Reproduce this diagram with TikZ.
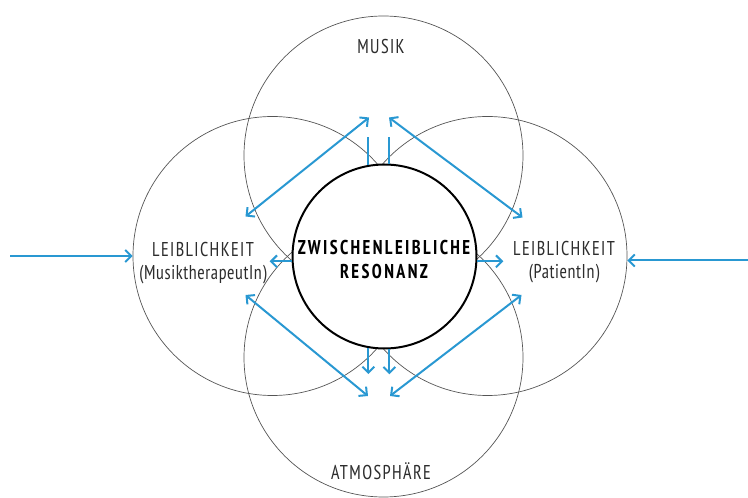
\documentclass[tikz,border=0pt]{standalone}
\usepackage{fontspec}
\setmainfont{PT Sans Narrow}[FakeStretch=0.9]
\usetikzlibrary{arrows.meta}

\definecolor{flowblue}{RGB}{41,152,210}
\definecolor{ringgray}{RGB}{85,85,85}
\definecolor{textgray}{RGB}{45,45,45}

\tikzset{
    ring/.style={circle, draw=ringgray, line width=0.7pt, minimum size=279pt, inner sep=0pt},
    core/.style={circle, draw=black, fill=white, line width=2pt, minimum size=184pt, inner sep=0pt},
    lbl/.style={anchor=base, inner sep=0pt, text=textgray, font=\fontsize{20}{22}\selectfont\addfontfeature{LetterSpace=7}},
    sublbl/.style={lbl, font=\fontsize{20}{22}\selectfont\addfontfeature{LetterSpace=3}},
    corelbl/.style={lbl, text=black, font=\fontsize{20}{22}\selectfont\bfseries\addfontfeature{LetterSpace=12}},
    link/.style={draw=flowblue, line width=2pt},
    barb/.style={link, -{Straight Barb[length=6pt,width=12pt]}},
    dbarb/.style={link, {Straight Barb[length=6pt,width=12pt]}-{Straight Barb[length=6pt,width=12pt]}}
}

\begin{document}
\begin{tikzpicture}[x=1pt,y=1pt]
\useasboundingbox (0,0) rectangle (748,498);

% Four overlapping circles
\node[ring] (musik) at (383.5,342.5) {};
\node[ring] (atmo)  at (383.5,140.5) {};
\node[ring] (leibL) at (272.5,242) {};
\node[ring] (leibR) at (487.5,242) {};

% Resonance in the middle
\node[core] (reso) at (384.5,241.5) {};

% Labels
\node[lbl] (musikText) at (381,444) {MUSIK};
\node[lbl] (atmoText)  at (381,18)  {ATMOSPHÄRE};
\node[lbl] (leibLText) at (203,241.5) {LEIBLICHKEIT};
\node[sublbl] (leibLSub) at (203,218) {(MusiktherapeutIn)};
\node[lbl] (leibRText) at (564,242.5) {LEIBLICHKEIT};
\node[sublbl] (leibRSub) at (564,219) {(PatientIn)};
\node[corelbl] (resoTop) at (384,243)   {ZWISCHENLEIBLICHE};
\node[corelbl] (resoBot) at (384,219.7) {RESONANZ};

% Arrow ends
\coordinate (inL) at (10,242);
\coordinate (inR) at (748,237.5);
\coordinate (ulA) at (245.5,281.5);
\coordinate (ulB) at (369,380.5);
\coordinate (urA) at (389,380.5);
\coordinate (urB) at (522.5,280.5);
\coordinate (llA) at (245.5,203);
\coordinate (llB) at (368,102);
\coordinate (lrA) at (521.5,203);
\coordinate (lrB) at (390,102);

% Incoming from outside
\draw[barb] (inL) -- (leibL.west);
\draw[barb] (inR) -- (inR -| leibR.east);

% Diagonals between the circles
\draw[dbarb] (ulA) -- (ulB);
\draw[dbarb] (urA) -- (urB);
\draw[dbarb] (llA) -- (llB);
\draw[dbarb] (lrA) -- (lrB);

% Out of the resonance circle
\draw[link] (reso.100) -- +(0,28);
\draw[link] (reso.87)  -- +(0,27);
\draw[barb] (reso.260) -- +(0,-26);
\draw[barb] (reso.273) -- +(0,-25);
\draw[barb] (reso.183) -- +(-22,0);
\draw[barb] (reso.-3)  -- +(26,0);

\end{tikzpicture}
\end{document}
